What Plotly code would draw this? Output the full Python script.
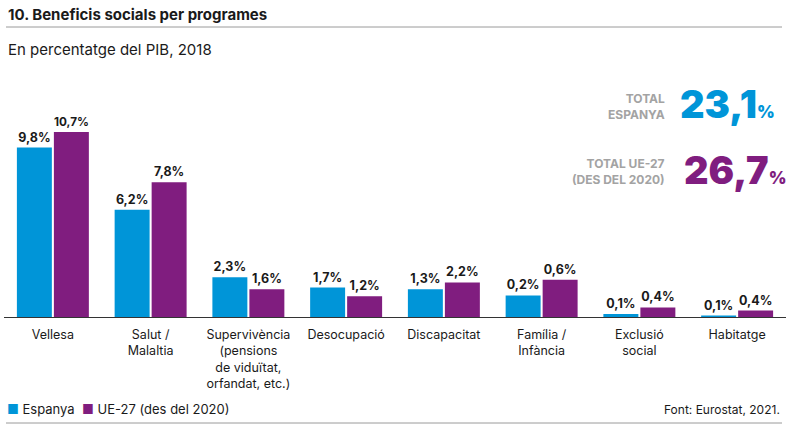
import plotly.graph_objects as go

categories = ["Vellesa", "Salut /<br>Malaltia",
              "Supervivència<br>(pensions<br>de viduïtat,<br>orfandat, etc.)",
              "Desocupació", "Discapacitat", "Família /<br>Infància",
              "Exclusió<br>social", "Habitatge"]

# bar heights as drawn in the picture
espanya = [9.8, 6.2, 2.3, 1.7, 1.6, 1.25, 0.17, 0.06]
ue27 = [10.7, 7.8, 1.6, 1.2, 2.0, 2.15, 0.55, 0.37]

# printed value labels
espanya_labels = ["9,8%", "6,2%", "2,3%", "1,7%", "1,3%", "0,2%", "0,1%", "0,1%"]
ue27_labels = ["10,7%", "7,8%", "1,6%", "1,2%", "2,2%", "0,6%", "0,4%", "0,4%"]

total_espanya = "23,1"
total_ue27 = "26,7"

BLUE = "#0095d8"
PURPLE = "#801d7f"
GREY = "#a3a3a3"
DARK = "#1a1a1a"
FONT = "Inter"

W, H = 800, 430


def px(x):
    return x / W


def py(y):
    return 1 - y / H


fig = go.Figure()
fig.add_trace(go.Bar(
    x=categories, y=espanya, name="Espanya", marker=dict(color=BLUE, line=dict(width=0)),
    text=espanya_labels, textposition="outside", cliponaxis=False,
    textfont=dict(family=FONT, size=12.5, color=DARK, weight="bold"),
))
fig.add_trace(go.Bar(
    x=categories, y=ue27, name="UE-27 (des del 2020)", marker=dict(color=PURPLE, line=dict(width=0)),
    text=ue27_labels, textposition="outside", cliponaxis=False,
    textfont=dict(family=FONT, size=12.5, color=DARK, weight="bold"),
))


def big(value):
    return f"{value}<span style='font-size:17px'>%</span>"


legend_text = (f"<span style='color:{BLUE}'>■</span> Espanya  "
               f"<span style='color:{PURPLE}'>■</span> UE-27 (des del 2020)")

annotations = [
    dict(text="10. Beneficis socials per programes", x=px(6), y=py(15), xanchor="left", yanchor="middle",
         font=dict(family=FONT, size=15, color=DARK, weight="bold")),
    dict(text="En percentatge del PIB, 2018", x=px(6), y=py(50), xanchor="left", yanchor="middle",
         font=dict(family=FONT, size=15, color=DARK)),
    dict(text="TOTAL<br>ESPANYA", x=px(667), y=py(106), xanchor="right", yanchor="middle", align="right",
         font=dict(family=FONT, size=12, color=GREY, weight="bold")),
    dict(text=big(total_espanya), x=px(678), y=py(104), xanchor="left", yanchor="middle",
         font=dict(family=FONT, size=38, color=BLUE, weight=900)),
    dict(text="TOTAL UE-27<br>(DES DEL 2020)", x=px(667), y=py(171), xanchor="right", yanchor="middle", align="right",
         font=dict(family=FONT, size=12, color=GREY, weight="bold")),
    dict(text=big(total_ue27), x=px(682), y=py(170), xanchor="left", yanchor="middle",
         font=dict(family=FONT, size=38, color=PURPLE, weight=900)),
    dict(text=legend_text, x=px(5), y=py(409), xanchor="left", yanchor="middle",
         font=dict(family=FONT, size=13, color=DARK)),
    dict(text="Font: Eurostat, 2021.", x=px(782), y=py(409), xanchor="right", yanchor="middle",
         font=dict(family=FONT, size=12, color=DARK)),
]
for a in annotations:
    a.update(xref="paper", yref="paper", showarrow=False)

shapes = [
    dict(type="line", xref="paper", yref="paper", x0=px(6), x1=px(782), y0=py(27), y1=py(27),
         line=dict(color="#9a9a9a", width=1)),
    dict(type="line", xref="paper", yref="paper", x0=px(6), x1=px(782), y0=py(423), y1=py(423),
         line=dict(color="#9a9a9a", width=1)),
]

fig.update_layout(
    width=W, height=H,
    margin=dict(l=0, r=0, t=0, b=0),
    plot_bgcolor="white", paper_bgcolor="white",
    barmode="group", bargap=0.243, bargroupgap=0.055,
    font=dict(family=FONT, size=12, color=DARK),
    showlegend=False,
    annotations=annotations,
    shapes=shapes,
    xaxis=dict(domain=[px(4), px(786)], showline=True, linecolor="#333333", linewidth=1,
               ticks="", showgrid=False, tickfont=dict(family=FONT, size=12.5, color=DARK),
               ticklabelstandoff=6, automargin=False, fixedrange=True),
    yaxis=dict(domain=[py(317), py(109.5)], range=[0, 12], visible=False, showgrid=False,
               zeroline=False, automargin=False, fixedrange=True),
)

# the page body has a default margin; drop it so the 800x430 figure fills the window
fig.write_html("out.html", post_script="document.body.style.margin='0';",
               config={"displayModeBar": False})
